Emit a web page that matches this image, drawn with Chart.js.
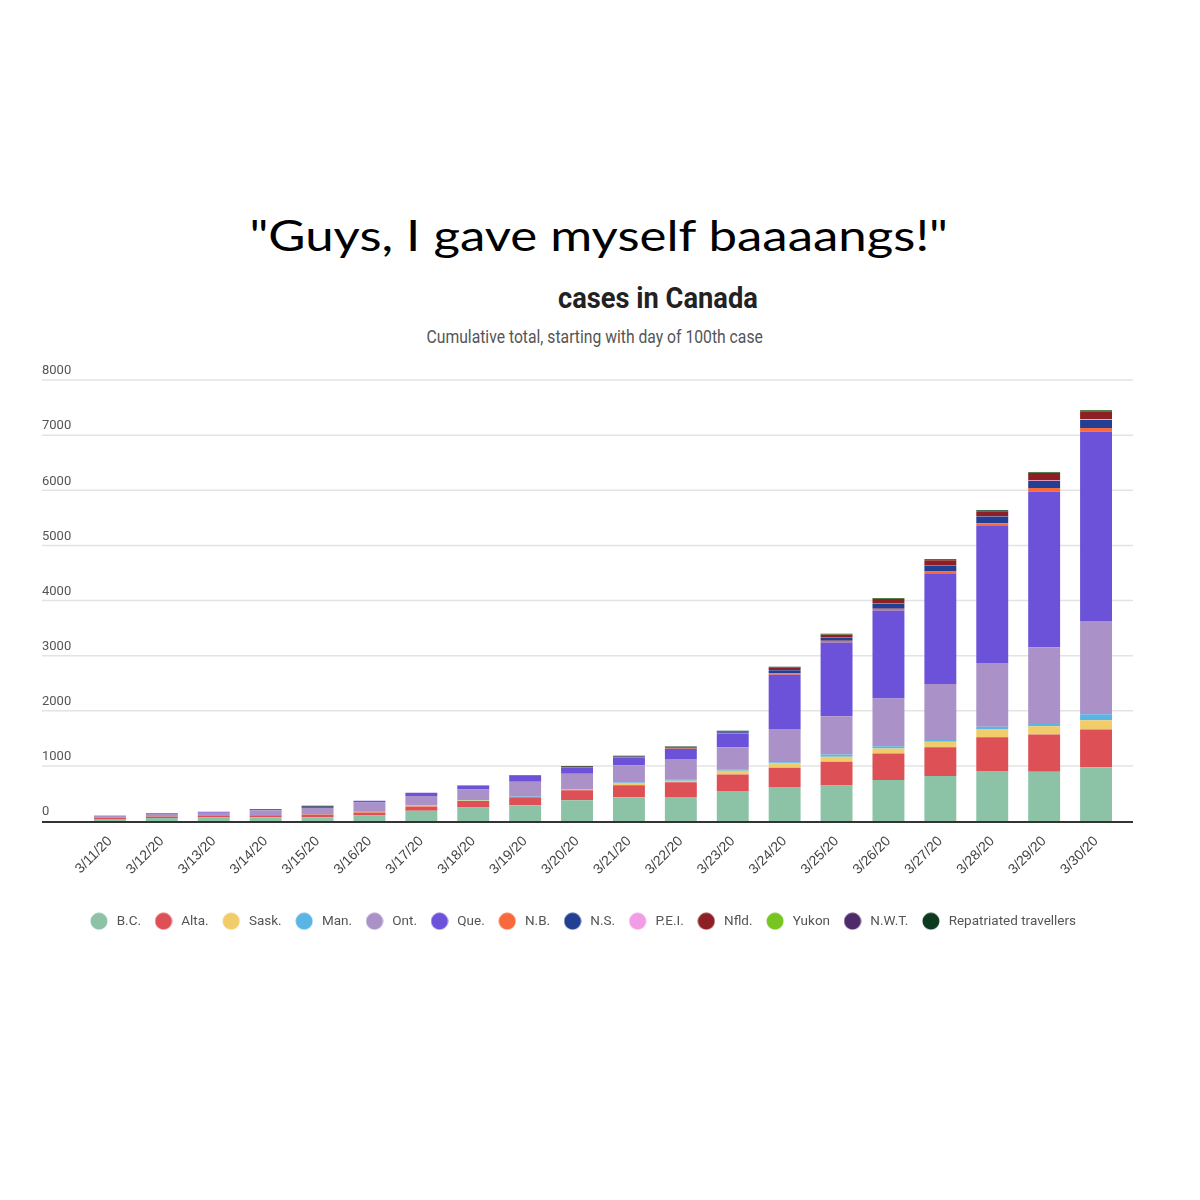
<!DOCTYPE html>
<html>
<head>
<meta charset="utf-8">
<script src="https://cdn.jsdelivr.net/npm/chart.js"></script>
<style>
  html, body { margin: 0; padding: 0; background: #fff; width: 1200px; height: 1200px; overflow: hidden; }
  .txt { position: absolute; white-space: nowrap; line-height: 1; transform-origin: center center; }
  #meme { font-family: Lato, 'Open Sans', sans-serif; font-size: 42px; color: #000; top: 214px; }
  #title { font-family: Roboto, sans-serif; font-weight: bold; font-size: 30px; color: #222; top: 283px; }
  #subtitle { font-family: Roboto, sans-serif; font-size: 18px; color: #555; top: 328px; }
  #wrap { position: absolute; left: 0; top: 350px; width: 1200px; height: 596px; }
</style>
</head>
<body>
<div class="txt" id="meme">"Guys, I gave myself baaaangs!"</div>
<div class="txt" id="title">cases in Canada</div>
<div class="txt" id="subtitle">Cumulative total, starting with day of 100th case</div>
<div id="wrap"><canvas id="chart" width="1200" height="596"></canvas></div>
<script>
const dates = ['3/11/20', '3/12/20', '3/13/20', '3/14/20', '3/15/20', '3/16/20', '3/17/20', '3/18/20', '3/19/20', '3/20/20',
  '3/21/20', '3/22/20', '3/23/20', '3/24/20', '3/25/20', '3/26/20', '3/27/20', '3/28/20', '3/29/20', '3/30/20'];
const yTicks = [0, 1000, 2000, 3000, 4000, 5000, 6000, 7000, 8000];

const regions = ['B.C.', 'Alta.', 'Sask.', 'Man.', 'Ont.', 'Que.', 'N.B.', 'N.S.', 'P.E.I.', 'Nfld.', 'Yukon', 'N.W.T.', 'Repatriated travellers'];

const bc    = [36, 55, 64, 66, 68, 100, 185, 243, 284, 375, 430, 434, 543, 615, 646, 742, 815, 905, 894, 977];
const alta  = [22, 25, 25, 39, 50, 56, 80, 118, 145, 181, 220, 271, 302, 350, 429, 483, 525, 615, 676, 682];
const sask  = [0, 0, 2, 2, 4, 7, 10, 10, 8, 12, 30, 25, 65, 83, 90, 90, 97, 139, 150, 168];
const man   = [0, 0, 0, 4, 4, 7, 8, 8, 8, 10, 20, 20, 20, 20, 42, 42, 50, 50, 60, 110];
const ont   = [38, 45, 60, 85, 110, 165, 170, 193, 265, 277, 310, 374, 410, 603, 693, 863, 996, 1158, 1370, 1689];
const que   = [4, 15, 18, 20, 24, 33, 60, 74, 108, 110, 140, 181, 248, 983, 1339, 1598, 1997, 2485, 2824, 3433];
const nb    = [0, 0, 0, 0, 0, 0, 0, 2, 2, 5, 6, 8, 8, 25, 30, 33, 45, 50, 65, 70];
const ns    = [0, 0, 0, 0, 0, 0, 0, 2, 5, 10, 10, 15, 15, 55, 60, 90, 110, 120, 130, 147];
const pei   = [0, 0, 0, 0, 0, 0, 0, 0, 0, 0, 0, 2, 2, 5, 5, 5, 5, 5, 9, 11];
const nfld  = [0, 0, 0, 0, 0, 0, 0, 0, 0, 4, 5, 8, 9, 40, 45, 82, 90, 90, 135, 148];
const yukon = [0, 0, 0, 0, 0, 0, 0, 0, 0, 0, 0, 0, 2, 3, 5, 5, 5, 5, 5, 5];
const nwt   = [0, 0, 0, 0, 0, 0, 0, 0, 0, 0, 0, 0, 0, 1, 1, 1, 1, 1, 1, 1];
const repat = [0, 0, 0, 0, 17, 0, 0, 0, 8, 13, 13, 13, 13, 17, 13, 13, 13, 13, 13, 13];

const series = [bc, alta, sask, man, ont, que, nb, ns, pei, nfld, yukon, nwt, repat];
const colors = ['#8cc3a6', '#dd5156', '#f1cc6b', '#5bb5e4', '#aa91c7', '#6b52d9', '#f86a3c', '#223f93',
  '#f39ce6', '#8d2024', '#78c422', '#4f2a6b', '#0c3a1f'];

// place the text blocks: centre x, target width
function placeText(id, cx, w) {
  const el = document.getElementById(id);
  const nat = el.offsetWidth;
  el.style.left = (cx - nat / 2) + 'px';
  el.style.transform = 'scaleX(' + (w / nat) + ')';
}

function dot(color) {
  const c = document.createElement('canvas');
  c.width = 18; c.height = 18;
  const g = c.getContext('2d');
  g.fillStyle = color;
  g.beginPath();
  g.arc(9, 9, 8.5, 0, Math.PI * 2);
  g.fill();
  return c;
}

const gridPlugin = {
  id: 'gridLines',
  beforeDatasetsDraw(chart) {
    const ys = chart.scales.y;
    const ctx = chart.ctx;
    const x0 = chart.chartArea.left - ys.width;
    const x1 = chart.chartArea.right + 11;
    ctx.save();
    ctx.strokeStyle = '#e3e3e3';
    ctx.lineWidth = 1.5;
    ys.ticks.forEach(t => {
      if (t.value === 0) return;
      const py = ys.getPixelForValue(t.value);
      ctx.beginPath();
      ctx.moveTo(x0, py);
      ctx.lineTo(x1, py);
      ctx.stroke();
    });
    ctx.restore();
  },
  afterDatasetsDraw(chart) {
    const ys = chart.scales.y;
    const ctx = chart.ctx;
    const py = ys.getPixelForValue(0) + 1;
    ctx.save();
    ctx.strokeStyle = '#333';
    ctx.lineWidth = 2;
    ctx.beginPath();
    ctx.moveTo(chart.chartArea.left - ys.width, py);
    ctx.lineTo(chart.chartArea.right + 11, py);
    ctx.stroke();
    ctx.restore();
  }
};

function draw() {
  placeText('meme', 598, 698);
  placeText('title', 658, 200);
  placeText('subtitle', 594, 336);

  Chart.defaults.font.family = 'Roboto, sans-serif';

  new Chart(document.getElementById('chart'), {
    type: 'bar',
    data: {
      labels: dates,
      datasets: regions.map((name, i) => ({
        label: name,
        data: series[i],
        backgroundColor: colors[i],
        borderWidth: 0,
        barPercentage: 0.615,
        categoryPercentage: 1,
        pointStyle: dot(colors[i])
      }))
    },
    options: {
      responsive: false,
      animation: false,
      layout: { padding: { left: 42, right: 78, top: 30, bottom: 8 } },
      plugins: {
        tooltip: { enabled: false },
        legend: {
          position: 'bottom',
          labels: {
            usePointStyle: true,
            pointStyleWidth: 22,
            padding: 11.5,
            color: '#555',
            font: { size: 13.5 }
          }
        }
      },
      scales: {
        x: {
          stacked: true,
          grid: { display: false },
          border: { display: false },
          ticks: {
            minRotation: 45,
            maxRotation: 45,
            padding: 4,
            color: '#444',
            font: { family: '"Liberation Sans", Arial, sans-serif', size: 14 }
          },
          afterFit(s) { s.height = 82; }
        },
        y: {
          stacked: true,
          min: 0,
          max: 8000,
          grid: { display: false },
          border: { display: false },
          afterBuildTicks(s) { s.ticks = yTicks.map(v => ({ value: v })); },
          ticks: {
            color: '#555',
            font: { size: 13 },
            crossAlign: 'far',
            labelOffset: -9,
            padding: 0,
            callback: v => String(v)
          },
          afterFit(s) { s.width = 42; }
        }
      }
    },
    plugins: [gridPlugin]
  });
}

if (document.fonts && document.fonts.ready) {
  document.fonts.ready.then(draw);
} else {
  draw();
}
</script>
</body>
</html>
